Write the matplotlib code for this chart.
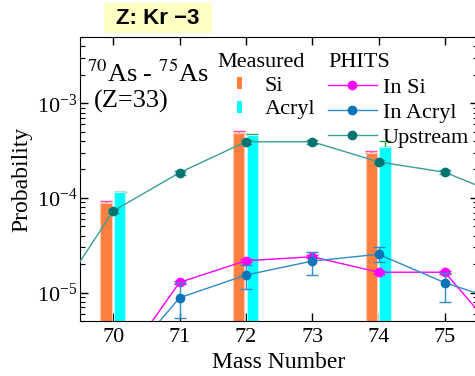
import matplotlib
matplotlib.use("Agg")
import matplotlib.pyplot as plt
from matplotlib.lines import Line2D
from matplotlib.patches import Patch, Rectangle

# Measured production probabilities (bars)
meas_mass = [70, 72, 74]
si_meas = [8.83e-5, 4.82e-4, 2.98e-4]
si_meas_hi = [9.26e-5, 5.10e-4, 3.15e-4]
acryl_meas = [1.154e-4, 4.62e-4, 3.48e-4]
acryl_meas_hi = [1.17e-4, 4.73e-4, 4.02e-4]

# PHITS simulation series
sim_mass = [69, 70, 71, 72, 73, 74, 75, 76]
upstream = [6.2e-6, 7.27e-5, 1.85e-4, 3.93e-4, 3.93e-4, 2.41e-4, 1.87e-4, 9.7e-5]
in_si = [1.0e-6, 1.3e-6, 1.28e-5, 2.17e-5, 2.39e-5, 1.64e-5, 1.64e-5, 2.5e-6]
in_acryl = [1.0e-6, 1.3e-6, 8.8e-6, 1.53e-5, 2.15e-5, 2.54e-5, 1.27e-5, 7.5e-6]
in_acryl_lo = [1.0e-6, 1.3e-6, 5.42e-6, 1.09e-5, 1.53e-5, 2.10e-5, 8.0e-6, 7.5e-6]
in_acryl_hi = [1.0e-6, 1.3e-6, 1.25e-5, 1.95e-5, 2.70e-5, 3.05e-5, 1.60e-5, 7.5e-6]

mass_ticks = [70, 71, 72, 73, 74, 75]

C_SI = "#ff7f3f"
C_ACRYL = "#00ffff"
C_INSI = "#ff00ff"
C_INACRYL = "#0a74b8"
C_INACRYL_LINE = "#2f8cc8"
C_UP = "#00756f"
C_UP_LINE = "#3a9e9a"

plt.rcParams["font.family"] = ["Liberation Serif", "DejaVu Serif"]
plt.rcParams["mathtext.fontset"] = "stix"

fig = plt.figure(figsize=(4.75, 3.76), dpi=100)
ax = fig.add_axes([80 / 475, 55 / 376, 398 / 475, 283.7 / 376])
ax.set_yscale("log")

bw = 0.17
si_x = [m - 0.11 for m in meas_mass]
ac_x = [m + 0.10 for m in meas_mass]

# error bars sit behind the bars so only the part above the bar shows
ax.errorbar(si_x, si_meas, yerr=[[0] * 3, [h - v for h, v in zip(si_meas_hi, si_meas)]],
            fmt="none", ecolor="#ff4fa0", capsize=4, elinewidth=1, zorder=1)
ax.errorbar(ac_x, acryl_meas, yerr=[[0] * 3, [h - v for h, v in zip(acryl_meas_hi, acryl_meas)]],
            fmt="none", ecolor="#22aa44", capsize=4, elinewidth=1, zorder=1)
ax.bar(si_x, si_meas, width=bw, bottom=1e-7, color=C_SI, edgecolor="#ffc9ad",
       linewidth=0.8, zorder=2)
ax.bar(ac_x, acryl_meas, width=bw, bottom=1e-7, color=C_ACRYL, edgecolor="#b0ffff",
       linewidth=0.8, zorder=2)

ax.errorbar(sim_mass, in_si, yerr=[[v * 0.04 for v in in_si], [v * 0.04 for v in in_si]],
            color=C_INSI, marker="o", ms=6, lw=1, capsize=4, zorder=4)
ax.errorbar(sim_mass, in_acryl,
            yerr=[[v - lo for v, lo in zip(in_acryl, in_acryl_lo)],
                  [hi - v for v, hi in zip(in_acryl, in_acryl_hi)]],
            color=C_INACRYL_LINE, mfc=C_INACRYL, mec=C_INACRYL, marker="o", ms=6, lw=1,
            capsize=4, zorder=5)
ax.errorbar(sim_mass, upstream, yerr=[[v * 0.05 for v in upstream], [v * 0.05 for v in upstream]],
            color=C_UP_LINE, mfc=C_UP, mec=C_UP, marker="o", ms=6, lw=1, capsize=4, zorder=6)

ax.set_xlim(69.5, 75.5)
ax.set_ylim(5e-6, 5e-3)
ax.set_xticks(mass_ticks)
ax.set_xticklabels([str(m) for m in mass_ticks])
ax.tick_params(which="both", direction="in", top=True, right=True, labelsize=16)
ax.tick_params(which="major", length=6, width=1)
ax.tick_params(which="minor", length=3.5, width=0.8)
ax.tick_params(axis="x", which="minor", top=False, bottom=False)
ax.tick_params(axis="x", pad=5)
ax.tick_params(axis="y", pad=2)
ax.set_xlabel("Mass Number", fontsize=17, labelpad=4)
ax.set_ylabel("Probability", fontsize=17, labelpad=3)

ax.text(0.018, 0.842, r"$^{70}$As - $^{75}$As", transform=ax.transAxes, fontsize=19,
        va="baseline", ha="left")
ax.text(0.036, 0.754, "(Z=33)", transform=ax.transAxes, fontsize=19,
        va="baseline", ha="left")

# legend headers
ax.text(0.344, 0.896, "Measured", transform=ax.transAxes, fontsize=16, va="baseline")
ax.text(0.623, 0.896, "PHITS", transform=ax.transAxes, fontsize=16, va="baseline")

meas_handles = [Patch(facecolor=C_SI, edgecolor="none"), Patch(facecolor=C_ACRYL, edgecolor="none")]
leg1 = ax.legend(meas_handles, ["Si", "Acryl"], loc="upper left", bbox_to_anchor=(0.394, 0.86),
                 frameon=False, fontsize=16, handlelength=0.25, handleheight=0.45,
                 handletextpad=1.0, labelspacing=0.2, borderpad=0, borderaxespad=0)
ax.add_artist(leg1)

sim_handles = [Line2D([], [], color=C_INSI, marker="o", ms=6, lw=1),
               Line2D([], [], color=C_INACRYL_LINE, mfc=C_INACRYL, mec=C_INACRYL, marker="o", ms=6, lw=1),
               Line2D([], [], color=C_UP_LINE, mfc=C_UP, mec=C_UP, marker="o", ms=6, lw=1)]
ax.legend(sim_handles, ["In Si", "In Acryl", "Upstream"], loc="upper left",
          bbox_to_anchor=(0.623, 0.86), frameon=False, fontsize=16, handlelength=2.2,
          handletextpad=0.27, labelspacing=0.2, borderpad=0, borderaxespad=0)

# title tag
fig.patches.append(Rectangle((104 / 475, 1 - 33 / 376), 108 / 475, 30 / 376,
                             transform=fig.transFigure, facecolor="#ffffc4", edgecolor="none"))
fig.text(158 / 475, 1 - 18 / 376, "Z: Kr \u22123", ha="center", va="center", fontsize=16,
         fontweight="bold", family=["Liberation Sans", "DejaVu Sans"])

fig.savefig("out.png", dpi=100)
